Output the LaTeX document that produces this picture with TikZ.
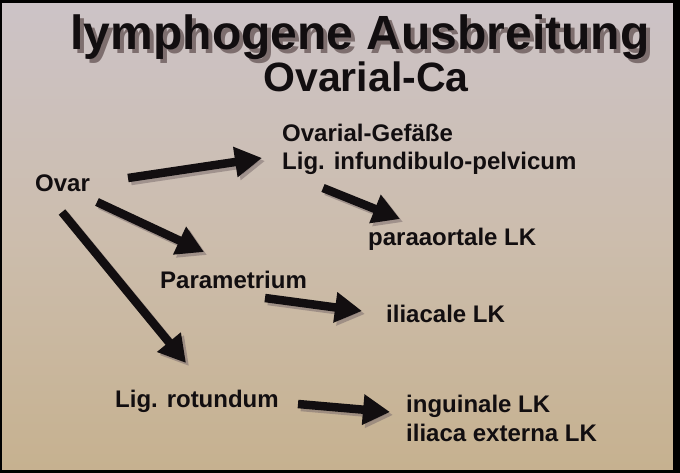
\documentclass[tikz,border=0pt]{standalone}
\usepackage{fontspec}
\setmainfont{Liberation Sans}
\usetikzlibrary{arrows.meta}
\definecolor{bgtop}{RGB}{204,195,199}
\definecolor{bgmid}{RGB}{204,189,173}
\definecolor{bgbot}{RGB}{198,177,143}
\definecolor{shadowc}{RGB}{125,110,110}
\definecolor{ink}{RGB}{18,14,16}
\begin{document}
\begin{tikzpicture}[x=1pt,y=-1pt,
  lbl/.style={font=\fontsize{24}{28}\selectfont\bfseries, anchor=base west, inner sep=0pt, text=ink},
  ttl/.style={font=\fontsize{48}{54}\selectfont\bfseries, anchor=base, inner sep=0pt},
  sub/.style={font=\fontsize{41}{46}\selectfont\bfseries, anchor=base, inner sep=0pt},
  arr/.style={line width=8.5pt, -{Triangle[length=27pt,width=29pt]}, draw=ink},
  arrsh/.style={line width=8.5pt, -{Triangle[length=27pt,width=29pt]}, draw=shadowc, opacity=0.55},
]
\useasboundingbox (0,0) rectangle (680,473);
\shade[top color=bgtop, bottom color=bgbot, middle color=bgmid] (0,0) rectangle (680,473);
\fill[black] (0,0) rectangle (680,3);
\fill[black] (673,0) rectangle (680,473);
\fill[black] (0,470) rectangle (680,473);
\fill[black] (0,0) rectangle (2,473);

% title with shadow
\node[ttl, text=shadowc] (t1s) at (364,54) {lymphogene Ausbreitung};
\node[ttl, text=ink] (t1) at (360,50) {lymphogene Ausbreitung};
\node[sub, text=ink] (t2) at (366,92) {Ovarial-Ca};

% labels
\node[lbl] (ovar) at (35,192) {Ovar};
\node[lbl] (gef) at (282,142) {Ovarial-Gefäße};
\node[lbl] (lip) at (282,170) {Lig. infundibulo-pelvicum};
\node[lbl] (para) at (368,245) {paraaortale LK};
\node[lbl] (parm) at (160,288) {Parametrium};
\node[lbl] (ilia) at (386,322) {iliacale LK};
\node[lbl] (rot) at (115,407) {Lig. rotundum};
\node[lbl] (ing) at (406,412) {inguinale LK};
\node[lbl] (ext) at (406,441) {iliaca externa LK};

% arrow end points
\coordinate (a1s) at (128,178); \coordinate (a1e) at (262,158);
\coordinate (a2s) at (97,202);  \coordinate (a2e) at (204,252);
\coordinate (a3s) at (62,212);  \coordinate (a3e) at (186,363);
\coordinate (a4s) at (323,188); \coordinate (a4e) at (400,219);
\coordinate (a5s) at (265,298); \coordinate (a5e) at (362,311);
\coordinate (a6s) at (298,404); \coordinate (a6e) at (390,412);

% shadows
\foreach \i in {1,...,6}{
  \draw[arrsh, transform canvas={shift={(3pt,-3pt)}}] (a\i s) -- (a\i e);
}
% arrows
\foreach \i in {1,...,6}{
  \draw[arr] (a\i s) -- (a\i e);
}
\end{tikzpicture}
\end{document}
